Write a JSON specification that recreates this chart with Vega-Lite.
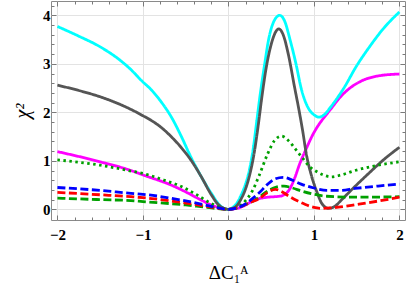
{
  "$schema": "https://vega.github.io/schema/vega-lite/v6.json",
  "width": 354,
  "height": 219,
  "autosize": "none",
  "padding": {"left": 51, "top": 1, "right": 2, "bottom": 67},
  "config": {
    "view": {"stroke": "#8a8a8a", "strokeWidth": 1},
    "axis": {
      "domain": false,
      "labelFont": "Liberation Serif",
      "labelFontWeight": "bold",
      "labelFontSize": 15,
      "labelColor": "#000000",
      "labelOverlap": false,
      "labelFlush": false,
      "tickColor": "#7a7a7a",
      "gridColor": "#e3e3e3",
      "titleFont": "Liberation Serif",
      "titleFontWeight": "normal",
      "titleColor": "#000000"
    }
  },
  "datasets": {
    "curves": [
      {"s": "magenta", "x": -2, "y": 1.19}, {"s": "magenta", "x": -1.5, "y": 0.98}, {"s": "magenta", "x": -1.14, "y": 0.8}, {"s": "magenta", "x": -1, "y": 0.71}, {"s": "magenta", "x": -0.67, "y": 0.5}, {"s": "magenta", "x": -0.5, "y": 0.36}, {"s": "magenta", "x": -0.35, "y": 0.22}, {"s": "magenta", "x": -0.2, "y": 0.09}, {"s": "magenta", "x": -0.1, "y": 0.03}, {"s": "magenta", "x": 0, "y": 0}, {"s": "magenta", "x": 0.1, "y": 0.02}, {"s": "magenta", "x": 0.18, "y": 0.07}, {"s": "magenta", "x": 0.27, "y": 0.16}, {"s": "magenta", "x": 0.36, "y": 0.22}, {"s": "magenta", "x": 0.46, "y": 0.25}, {"s": "magenta", "x": 0.6, "y": 0.27}, {"s": "magenta", "x": 0.66, "y": 0.31}, {"s": "magenta", "x": 0.71, "y": 0.4}, {"s": "magenta", "x": 0.77, "y": 0.62}, {"s": "magenta", "x": 0.83, "y": 0.92}, {"s": "magenta", "x": 0.91, "y": 1.25}, {"s": "magenta", "x": 0.99, "y": 1.55}, {"s": "magenta", "x": 1.07, "y": 1.78}, {"s": "magenta", "x": 1.14, "y": 1.94}, {"s": "magenta", "x": 1.22, "y": 2.12}, {"s": "magenta", "x": 1.3, "y": 2.3}, {"s": "magenta", "x": 1.4, "y": 2.47}, {"s": "magenta", "x": 1.56, "y": 2.65}, {"s": "magenta", "x": 1.75, "y": 2.75}, {"s": "magenta", "x": 2.0, "y": 2.79},
      {"s": "cyan", "x": -2, "y": 3.77}, {"s": "cyan", "x": -1.75, "y": 3.57}, {"s": "cyan", "x": -1.5, "y": 3.35}, {"s": "cyan", "x": -1.25, "y": 3.05}, {"s": "cyan", "x": -1.14, "y": 2.88}, {"s": "cyan", "x": -1.02, "y": 2.66}, {"s": "cyan", "x": -0.9, "y": 2.46}, {"s": "cyan", "x": -0.78, "y": 2.2}, {"s": "cyan", "x": -0.67, "y": 1.91}, {"s": "cyan", "x": -0.55, "y": 1.5}, {"s": "cyan", "x": -0.44, "y": 1.08}, {"s": "cyan", "x": -0.32, "y": 0.68}, {"s": "cyan", "x": -0.2, "y": 0.33}, {"s": "cyan", "x": -0.1, "y": 0.08}, {"s": "cyan", "x": 0, "y": 0}, {"s": "cyan", "x": 0.05, "y": 0.04}, {"s": "cyan", "x": 0.1, "y": 0.13}, {"s": "cyan", "x": 0.15, "y": 0.3}, {"s": "cyan", "x": 0.2, "y": 0.52}, {"s": "cyan", "x": 0.25, "y": 0.85}, {"s": "cyan", "x": 0.29, "y": 1.25}, {"s": "cyan", "x": 0.33, "y": 1.8}, {"s": "cyan", "x": 0.37, "y": 2.35}, {"s": "cyan", "x": 0.42, "y": 2.95}, {"s": "cyan", "x": 0.47, "y": 3.5}, {"s": "cyan", "x": 0.53, "y": 3.87}, {"s": "cyan", "x": 0.6, "y": 4.0}, {"s": "cyan", "x": 0.66, "y": 3.87}, {"s": "cyan", "x": 0.72, "y": 3.5}, {"s": "cyan", "x": 0.79, "y": 3.0}, {"s": "cyan", "x": 0.85, "y": 2.5}, {"s": "cyan", "x": 0.93, "y": 2.1}, {"s": "cyan", "x": 1.0, "y": 1.95}, {"s": "cyan", "x": 1.06, "y": 1.9}, {"s": "cyan", "x": 1.12, "y": 1.95}, {"s": "cyan", "x": 1.2, "y": 2.12}, {"s": "cyan", "x": 1.35, "y": 2.5}, {"s": "cyan", "x": 1.5, "y": 2.96}, {"s": "cyan", "x": 1.65, "y": 3.35}, {"s": "cyan", "x": 1.8, "y": 3.7}, {"s": "cyan", "x": 2.0, "y": 4.07},
      {"s": "gray", "x": -2, "y": 2.56}, {"s": "gray", "x": -1.75, "y": 2.45}, {"s": "gray", "x": -1.5, "y": 2.32}, {"s": "gray", "x": -1.25, "y": 2.15}, {"s": "gray", "x": -1.14, "y": 2.06}, {"s": "gray", "x": -1.0, "y": 1.93}, {"s": "gray", "x": -0.9, "y": 1.83}, {"s": "gray", "x": -0.78, "y": 1.68}, {"s": "gray", "x": -0.67, "y": 1.5}, {"s": "gray", "x": -0.55, "y": 1.27}, {"s": "gray", "x": -0.44, "y": 1.02}, {"s": "gray", "x": -0.32, "y": 0.68}, {"s": "gray", "x": -0.2, "y": 0.3}, {"s": "gray", "x": -0.12, "y": 0.1}, {"s": "gray", "x": -0.05, "y": 0.02}, {"s": "gray", "x": 0, "y": 0}, {"s": "gray", "x": 0.05, "y": 0.02}, {"s": "gray", "x": 0.1, "y": 0.08}, {"s": "gray", "x": 0.15, "y": 0.22}, {"s": "gray", "x": 0.2, "y": 0.42}, {"s": "gray", "x": 0.25, "y": 0.72}, {"s": "gray", "x": 0.3, "y": 1.15}, {"s": "gray", "x": 0.35, "y": 1.75}, {"s": "gray", "x": 0.39, "y": 2.3}, {"s": "gray", "x": 0.44, "y": 2.9}, {"s": "gray", "x": 0.5, "y": 3.4}, {"s": "gray", "x": 0.55, "y": 3.65}, {"s": "gray", "x": 0.59, "y": 3.72}, {"s": "gray", "x": 0.64, "y": 3.6}, {"s": "gray", "x": 0.7, "y": 3.2}, {"s": "gray", "x": 0.77, "y": 2.55}, {"s": "gray", "x": 0.83, "y": 2.0}, {"s": "gray", "x": 0.87, "y": 1.6}, {"s": "gray", "x": 0.91, "y": 1.15}, {"s": "gray", "x": 0.97, "y": 0.7}, {"s": "gray", "x": 1.03, "y": 0.38}, {"s": "gray", "x": 1.1, "y": 0.1}, {"s": "gray", "x": 1.17, "y": 0.02}, {"s": "gray", "x": 1.25, "y": 0.07}, {"s": "gray", "x": 1.32, "y": 0.19}, {"s": "gray", "x": 1.45, "y": 0.42}, {"s": "gray", "x": 1.64, "y": 0.74}, {"s": "gray", "x": 1.8, "y": 1.0}, {"s": "gray", "x": 2.0, "y": 1.28},
      {"s": "gdot", "x": -2, "y": 1.02}, {"s": "gdot", "x": -1.5, "y": 0.91}, {"s": "gdot", "x": -1.14, "y": 0.79}, {"s": "gdot", "x": -1, "y": 0.74}, {"s": "gdot", "x": -0.75, "y": 0.6}, {"s": "gdot", "x": -0.55, "y": 0.47}, {"s": "gdot", "x": -0.4, "y": 0.33}, {"s": "gdot", "x": -0.2, "y": 0.12}, {"s": "gdot", "x": -0.1, "y": 0.04}, {"s": "gdot", "x": 0, "y": 0}, {"s": "gdot", "x": 0.1, "y": 0.04}, {"s": "gdot", "x": 0.2, "y": 0.18}, {"s": "gdot", "x": 0.28, "y": 0.38}, {"s": "gdot", "x": 0.36, "y": 0.7}, {"s": "gdot", "x": 0.46, "y": 1.15}, {"s": "gdot", "x": 0.54, "y": 1.42}, {"s": "gdot", "x": 0.62, "y": 1.51}, {"s": "gdot", "x": 0.7, "y": 1.42}, {"s": "gdot", "x": 0.78, "y": 1.25}, {"s": "gdot", "x": 0.87, "y": 1.05}, {"s": "gdot", "x": 0.95, "y": 0.88}, {"s": "gdot", "x": 1.03, "y": 0.78}, {"s": "gdot", "x": 1.12, "y": 0.7}, {"s": "gdot", "x": 1.2, "y": 0.67}, {"s": "gdot", "x": 1.3, "y": 0.7}, {"s": "gdot", "x": 1.48, "y": 0.8}, {"s": "gdot", "x": 1.75, "y": 0.91}, {"s": "gdot", "x": 2.0, "y": 0.98},
      {"s": "gdash", "x": -2, "y": 0.23}, {"s": "gdash", "x": -1.5, "y": 0.2}, {"s": "gdash", "x": -1.14, "y": 0.18}, {"s": "gdash", "x": -1, "y": 0.16}, {"s": "gdash", "x": -0.5, "y": 0.09}, {"s": "gdash", "x": -0.25, "y": 0.04}, {"s": "gdash", "x": 0, "y": 0}, {"s": "gdash", "x": 0.1, "y": 0.03}, {"s": "gdash", "x": 0.2, "y": 0.1}, {"s": "gdash", "x": 0.28, "y": 0.16}, {"s": "gdash", "x": 0.36, "y": 0.25}, {"s": "gdash", "x": 0.46, "y": 0.38}, {"s": "gdash", "x": 0.56, "y": 0.46}, {"s": "gdash", "x": 0.65, "y": 0.48}, {"s": "gdash", "x": 0.75, "y": 0.44}, {"s": "gdash", "x": 0.85, "y": 0.38}, {"s": "gdash", "x": 1.0, "y": 0.31}, {"s": "gdash", "x": 1.15, "y": 0.27}, {"s": "gdash", "x": 1.5, "y": 0.25}, {"s": "gdash", "x": 2.0, "y": 0.26},
      {"s": "red", "x": -2, "y": 0.35}, {"s": "red", "x": -1.5, "y": 0.3}, {"s": "red", "x": -1.14, "y": 0.26}, {"s": "red", "x": -1, "y": 0.24}, {"s": "red", "x": -0.5, "y": 0.13}, {"s": "red", "x": -0.25, "y": 0.06}, {"s": "red", "x": 0, "y": 0}, {"s": "red", "x": 0.1, "y": 0.03}, {"s": "red", "x": 0.2, "y": 0.1}, {"s": "red", "x": 0.28, "y": 0.16}, {"s": "red", "x": 0.36, "y": 0.22}, {"s": "red", "x": 0.46, "y": 0.35}, {"s": "red", "x": 0.55, "y": 0.41}, {"s": "red", "x": 0.62, "y": 0.37}, {"s": "red", "x": 0.7, "y": 0.28}, {"s": "red", "x": 0.8, "y": 0.18}, {"s": "red", "x": 0.9, "y": 0.1}, {"s": "red", "x": 1.0, "y": 0.04}, {"s": "red", "x": 1.1, "y": 0.02}, {"s": "red", "x": 1.2, "y": 0.03}, {"s": "red", "x": 1.35, "y": 0.06}, {"s": "red", "x": 1.5, "y": 0.1}, {"s": "red", "x": 1.75, "y": 0.17}, {"s": "red", "x": 2.0, "y": 0.25},
      {"s": "blue", "x": -2, "y": 0.45}, {"s": "blue", "x": -1.5, "y": 0.39}, {"s": "blue", "x": -1.14, "y": 0.33}, {"s": "blue", "x": -1, "y": 0.31}, {"s": "blue", "x": -0.55, "y": 0.19}, {"s": "blue", "x": -0.3, "y": 0.1}, {"s": "blue", "x": -0.15, "y": 0.04}, {"s": "blue", "x": 0, "y": 0}, {"s": "blue", "x": 0.1, "y": 0.03}, {"s": "blue", "x": 0.2, "y": 0.11}, {"s": "blue", "x": 0.28, "y": 0.22}, {"s": "blue", "x": 0.36, "y": 0.34}, {"s": "blue", "x": 0.46, "y": 0.52}, {"s": "blue", "x": 0.55, "y": 0.63}, {"s": "blue", "x": 0.64, "y": 0.66}, {"s": "blue", "x": 0.75, "y": 0.6}, {"s": "blue", "x": 0.85, "y": 0.52}, {"s": "blue", "x": 1.0, "y": 0.44}, {"s": "blue", "x": 1.15, "y": 0.39}, {"s": "blue", "x": 1.3, "y": 0.39}, {"s": "blue", "x": 1.48, "y": 0.43}, {"s": "blue", "x": 1.75, "y": 0.48}, {"s": "blue", "x": 2.0, "y": 0.52}
    ]
  },
  "data": {"name": "curves"},
  "layer": [
    {
      "mark": {"type": "point", "opacity": 0},
      "encoding": {
        "x": {
          "field": "x", "type": "quantitative",
          "scale": {"domain": [-2.075, 2.065], "nice": false, "zero": false},
          "axis": {"orient": "top", "values": [-2, -1, 0, 1, 2], "labels": false, "ticks": false, "domain": false, "grid": true, "title": null}
        },
        "y": {
          "field": "y", "type": "quantitative",
          "scale": {"domain": [-0.22, 4.295], "nice": false, "zero": false},
          "axis": {"orient": "right", "values": [0, 1, 2, 3, 4], "labels": false, "ticks": false, "domain": false, "grid": true, "title": null}
        }
      }
    },
    {
      "mark": {"type": "line", "interpolate": "monotone", "strokeWidth": 2.8, "clip": true},
      "encoding": {
        "x": {
          "field": "x", "type": "quantitative",
          "axis": {
            "orient": "bottom",
            "grid": false,
            "values": [-2, -1.8, -1.6, -1.4, -1.2, -1, -0.8, -0.6, -0.4, -0.2, 0, 0.2, 0.4, 0.6, 0.8, 1, 1.2, 1.4, 1.6, 1.8, 2],
            "labelOverlap": false,
            "labelExpr": "abs(datum.value - round(datum.value)) < 0.001 ? (round(datum.value) < 0 ? '−' + format(abs(round(datum.value)), '.0f') : format(round(datum.value), '.0f')) : ''",
            "tickSize": {"condition": {"test": "abs(datum.value - round(datum.value)) < 0.001", "value": -5}, "value": -3},
            "labelPadding": 12,
            "title": "ΔC₁ᴬ",
            "titleFontSize": 19,
            "titlePadding": 19
          }
        },
        "y": {
          "field": "y", "type": "quantitative",
          "axis": {
            "orient": "left",
            "grid": false,
            "values": [0, 0.2, 0.4, 0.6, 0.8, 1, 1.2, 1.4, 1.6, 1.8, 2, 2.2, 2.4, 2.6, 2.8, 3, 3.2, 3.4, 3.6, 3.8, 4, 4.2],
            "labelOverlap": false,
            "labelExpr": "abs(datum.value - round(datum.value)) < 0.001 ? format(round(datum.value), '.0f') : ''",
            "tickSize": {"condition": {"test": "abs(datum.value - round(datum.value)) < 0.001", "value": -5}, "value": -3},
            "labelPadding": 6,
            "title": "χ²",
            "titleFontSize": 20,
            "titleFontStyle": "italic",
            "titlePadding": 10
          }
        },
        "color": {
          "field": "s", "type": "nominal", "legend": null,
          "scale": {"domain": ["magenta", "cyan", "gray", "gdot", "gdash", "red", "blue"], "range": ["#ff00ff", "#00ffff", "#555555", "#00a000", "#00a000", "#ff0000", "#0000ff"]}
        },
        "strokeDash": {
          "field": "s", "type": "nominal", "legend": null,
          "scale": {"domain": ["magenta", "cyan", "gray", "gdot", "gdash", "red", "blue"], "range": [[1, 0], [1, 0], [1, 0], [2.5, 3.5], [8, 3.5], [8, 3.5], [8, 3.5]]}
        }
      }
    },
    {
      "mark": {"type": "point", "opacity": 0},
      "encoding": {
        "x": {
          "field": "x", "type": "quantitative",
          "axis": {
            "orient": "top", "grid": false, "labels": false, "title": null,
            "values": [-2, -1.8, -1.6, -1.4, -1.2, -1, -0.8, -0.6, -0.4, -0.2, 0, 0.2, 0.4, 0.6, 0.8, 1, 1.2, 1.4, 1.6, 1.8, 2],
            "tickSize": {"condition": {"test": "abs(datum.value - round(datum.value)) < 0.001", "value": -5}, "value": -3}
          }
        },
        "y": {
          "field": "y", "type": "quantitative",
          "axis": {
            "orient": "right", "grid": false, "labels": false, "title": null,
            "values": [0, 0.2, 0.4, 0.6, 0.8, 1, 1.2, 1.4, 1.6, 1.8, 2, 2.2, 2.4, 2.6, 2.8, 3, 3.2, 3.4, 3.6, 3.8, 4, 4.2],
            "tickSize": {"condition": {"test": "abs(datum.value - round(datum.value)) < 0.001", "value": -5}, "value": -3}
          }
        }
      }
    }
  ],
  "resolve": {"axis": {"x": "independent", "y": "independent"}}
}
